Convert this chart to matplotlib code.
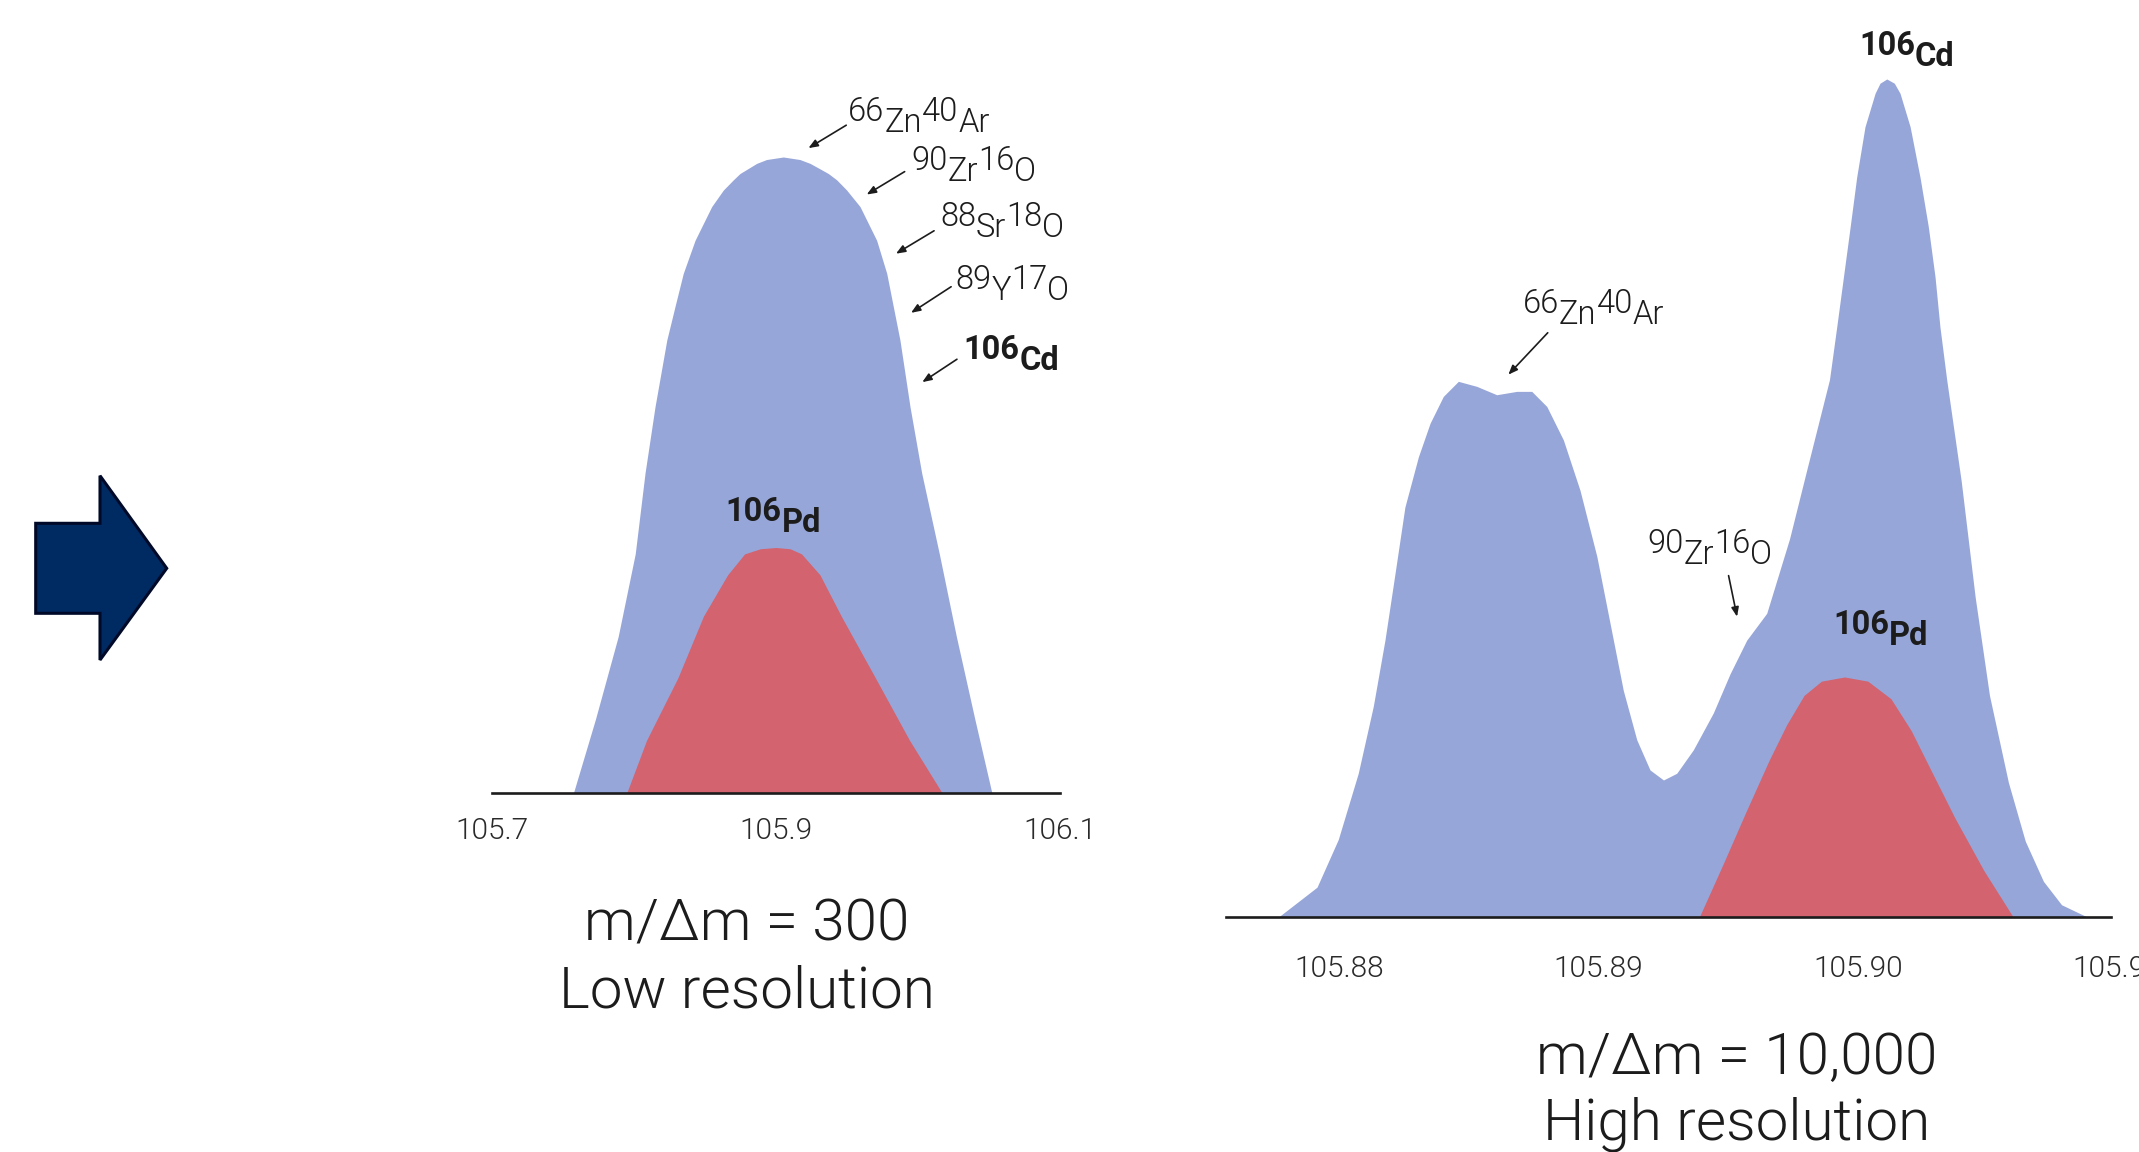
import matplotlib
matplotlib.use("Agg")
import matplotlib.pyplot as plt
from matplotlib.patches import Polygon

plt.rcParams['font.family'] = ['Roboto', 'DejaVu Sans']

BLUE = '#97a6d8'
RED = '#d2636f'
TXT = '#1c1c1c'

# --- low resolution (m/dm = 300) ---
low_blue_x = [105.7575, 105.773, 105.789, 105.801, 105.8079, 105.8149, 105.8232, 105.8290,
              105.8348, 105.8431, 105.8548, 105.8630, 105.8700, 105.8747, 105.8806, 105.8865,
              105.8934, 105.9052, 105.9169, 105.9240, 105.9305, 105.9369, 105.9428, 105.9498,
              105.9592, 105.9709, 105.9780, 105.9826, 105.9873, 105.9944, 106.0026, 106.015,
              106.027, 106.040, 106.052]
low_blue_y = [0, 11.6, 24.6, 37.6, 50.3, 60.7, 71.2, 76.5, 81.7, 86.9, 92.2, 94.8, 96.4,
              97.4, 98.2, 99.0, 99.6, 100, 99.6, 99.0, 98.2, 97.4, 96.4, 94.8, 92.2, 86.9,
              81.7, 76.5, 71.2, 60.7, 50.3, 37.6, 24.6, 11.6, 0]
low_red_x = [105.795, 105.809, 105.831, 105.849, 105.866, 105.878, 105.889, 105.900,
             105.910, 105.918, 105.931, 105.946, 105.970, 105.994, 106.017]
low_red_y = [0, 8.3, 18.1, 27.8, 34.3, 37.6, 38.4, 38.6, 38.4, 37.6, 34.3, 27.8, 18.1, 8.3, 0]
low_ticks = [105.7, 105.9, 106.1]
low_ticklabels = ['105.7', '105.9', '106.1']

# --- high resolution (m/dm = 10,000) ---
high_blue_x = [105.87768, 105.87914, 105.87996, 105.88073, 105.88131, 105.88176, 105.88215,
               105.88253, 105.88305, 105.88350, 105.88401, 105.88459, 105.88530, 105.88607,
               105.88684, 105.88742, 105.88800, 105.88864, 105.88928, 105.88993, 105.89044,
               105.89095, 105.89147, 105.89198, 105.89250, 105.89301, 105.89365, 105.89442,
               105.89507, 105.89571, 105.89648, 105.89736, 105.89803, 105.89890, 105.89918,
               105.89944, 105.89970, 105.89995, 105.90027, 105.90066, 105.90085, 105.90111,
               105.90140, 105.90162, 105.90201, 105.90239, 105.90271, 105.90297, 105.90316,
               105.90342, 105.90398, 105.90452, 105.90507, 105.90580, 105.90645, 105.90715,
               105.90785, 105.90880]
high_blue_y = [0, 3.5, 9.2, 17.1, 25.1, 33.0, 41.0, 48.9, 54.9, 58.9, 62.1, 63.9, 63.3, 62.3,
               62.7, 62.7, 60.9, 56.9, 50.9, 43.0, 35.0, 27.0, 21.1, 17.5, 16.3, 17.1, 19.9,
               24.3, 29.0, 33.0, 36.2, 45.1, 53.4, 64.1, 70.4, 76.4, 82.4, 88.3, 94.3, 98.3,
               99.5, 100, 99.5, 98.3, 94.3, 88.3, 82.4, 76.4, 70.4, 64.1, 52.0, 38.1, 26.4,
               16.0, 9.0, 4.2, 1.4, 0]
high_red_x = [105.89389, 105.89479, 105.89568, 105.89658, 105.89725, 105.89792, 105.89859,
              105.89948, 105.90038, 105.90127, 105.90205, 105.90284, 105.90373, 105.90485,
              105.90597]
high_red_y = [0, 6.2, 12.5, 18.7, 22.9, 26.4, 28.1, 28.6, 28.1, 26.0, 22.2, 17.3, 11.8, 5.5, 0]
high_ticks = [105.88, 105.89, 105.90, 105.91]
high_ticklabels = ['105.88', '105.89', '105.90', '105.91']

W, H = 2139, 1152
fig = plt.figure(figsize=(W / 100, H / 100), dpi=100)
fig.patch.set_facecolor('white')


def px_axes(x0, x1, ybase, ytop):
    """axes placed by pixel box of the reference"""
    return fig.add_axes([x0 / W, 1 - ybase / H, (x1 - x0) / W, (ybase - ytop) / H])


def style_axes(ax, ticks, labels, pad):
    for s in ['top', 'left', 'right']:
        ax.spines[s].set_visible(False)
    ax.spines['bottom'].set_linewidth(1.9)
    ax.spines['bottom'].set_color(TXT)
    ax.spines['bottom'].set_zorder(5)
    ax.set_yticks([])
    ax.set_xticks(ticks)
    ax.set_xticklabels(labels)
    ax.tick_params(axis='x', length=0, pad=pad, labelsize=21.5, labelcolor='#2a2a2a')
    for t in ax.get_xticklabels():
        t.set_fontweight(300)
    ax.patch.set_alpha(0)


def iso_label(ax, x, y, parts, size=23.5, weight=300, rise=8):
    # mass numbers sit raised, element symbols lowered
    prev = ax.text(x, y, parts[0], fontsize=size, fontweight=weight, color=TXT,
                   ha='left', va='baseline', clip_on=False)
    for i, p in enumerate(parts[1:]):
        dy = -rise if i % 2 == 0 else rise
        prev = ax.annotate(p, xy=(1, 0), xycoords=prev, xytext=(0, dy),
                           textcoords='offset points', ha='left', va='bottom',
                           fontsize=size, fontweight=weight, color=TXT,
                           annotation_clip=False)


def pointer(ax, tail, tip):
    ax.annotate('', xy=tip, xytext=tail, annotation_clip=False,
                arrowprops=dict(arrowstyle='-|>,head_length=0.55,head_width=0.22',
                                lw=1.2, color=TXT, shrinkA=0, shrinkB=0))


# left panel
ax1 = px_axes(491.7, 1060.1, 793, 157)
ax1.fill_between(low_blue_x, low_blue_y, color=BLUE, lw=0, zorder=1)
ax1.fill_between(low_red_x, low_red_y, color=RED, lw=0, zorder=2)
ax1.set_xlim(105.7, 106.1)
ax1.set_ylim(0, 100)
style_axes(ax1, low_ticks, low_ticklabels, pad=17)

iso_label(ax1, 105.9507, 105.6, ['66', 'Zn', '40', 'Ar'])
pointer(ax1, (105.9495, 105.0), (105.9229, 101.4))
iso_label(ax1, 105.9951, 98.0, ['90', 'Zr', '16', 'O'])
pointer(ax1, (105.9906, 97.7), (105.9639, 94.1))
iso_label(ax1, 106.0155, 89.2, ['88', 'Sr', '18', 'O'])
pointer(ax1, (106.0113, 88.4), (105.9845, 84.8))
iso_label(ax1, 106.0261, 79.2, ['89', 'Y', '17', 'O'])
pointer(ax1, (106.0233, 79.6), (105.9951, 75.5))
iso_label(ax1, 106.0320, 68.2, ['106', 'Cd'], weight='bold')
pointer(ax1, (106.0274, 68.2), (106.0030, 64.6))
iso_label(ax1, 105.8647, 42.8, ['106', 'Pd'], weight='bold')

# right panel
ax2 = px_axes(1226, 2130.3, 916.5, 79)
ax2.fill_between(high_blue_x, high_blue_y, color=BLUE, lw=0, zorder=1)
ax2.fill_between(high_red_x, high_red_y, color=RED, lw=0, zorder=2)
ax2.set_xlim(105.875631, 105.9105)
ax2.set_ylim(0, 100)
ax2.spines['bottom'].set_bounds(105.875631, 105.909761)
style_axes(ax2, high_ticks, high_ticklabels, pad=28)

iso_label(ax2, 105.887073, 72.1, ['66', 'Zn', '40', 'Ar'])
pointer(ax2, (105.888037, 69.7), (105.886518, 64.7))
iso_label(ax2, 105.891867, 43.4, ['90', 'Zr', '16', 'O'])
pointer(ax2, (105.895010, 40.7), (105.895337, 35.8))
iso_label(ax2, 105.899040, 33.7, ['106', 'Pd'], weight='bold')
iso_label(ax2, 105.900042, 102.9, ['106', 'Cd'], weight='bold')

# captions
fig.text(747 / W, 1 - 941 / H, 'm/Δm = 300', ha='center', va='baseline',
         fontsize=42, fontweight=300, color=TXT)
fig.text(747 / W, 1 - 1007 / H, 'Low resolution', ha='center', va='baseline',
         fontsize=42, fontweight=300, color=TXT)
fig.text(1737 / W, 1 - 1074 / H, 'm/Δm = 10,000', ha='center', va='baseline',
         fontsize=42, fontweight=300, color=TXT)
fig.text(1737 / W, 1 - 1140 / H, 'High resolution', ha='center', va='baseline',
         fontsize=42, fontweight=300, color=TXT)

# navy block arrow on the left
arrow_px = [(35.7, 523.3), (100, 523.3), (100, 475.7), (166.7, 568.3),
            (100, 660), (100, 613.3), (35.7, 613.3)]
arrow_xy = [(x / W, 1 - y / H) for x, y in arrow_px]
fig.patches.append(Polygon(arrow_xy, closed=True, transform=fig.transFigure,
                           facecolor='#002a62', edgecolor='#000a28', lw=2.2,
                           joinstyle='miter', figure=fig))

fig.savefig('out.png', dpi=100)
